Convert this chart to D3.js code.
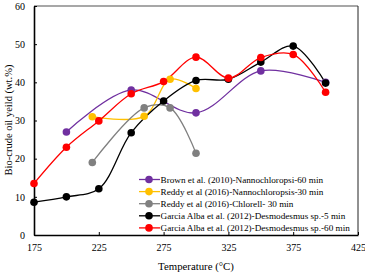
<!DOCTYPE html>
<html><head><meta charset="utf-8">
<script src="https://cdn.jsdelivr.net/npm/d3@7"></script>
</head><body style="margin:0;background:#fff"><svg id="c" width="365" height="275"></svg>
<script>
const seriesNames = [
  "Brown et al. (2010)-Nannochloropsi-60 min",
  "Reddy et al (2016)-Nannochloropsis-30 min",
  "Reddy et al (2016)-Chlorell- 30 min",
  "Garcia Alba et al. (2012)-Desmodesmus sp.-5 min",
  "Garcia Alba et al. (2012)-Desmodesmus sp.-60 min"
];
const seriesColors = ["#7030A0", "#FFC000", "#808080", "#000000", "#FF0000"];
const brownX = [200, 250, 300, 350, 400];
const brownY = [27, 38, 32, 43, 40];
const reddyNX = [220, 260, 280, 300];
const reddyNY = [31, 31.1, 40.8, 38.4];
const reddyCX = [220, 260, 280, 300];
const reddyCY = [19, 33.3, 33.3, 21.4];
const garcia5X = [175, 200, 225, 250, 275, 300, 325, 350, 375, 400];
const garcia5Y = [8.6, 10, 12.1, 26.8, 35.1, 40.5, 40.8, 45.3, 49.5, 39.8];
const garcia60X = [175, 200, 225, 250, 275, 300, 325, 350, 375, 400];
const garcia60Y = [13.5, 23, 29.9, 37, 40.2, 46.6, 41.1, 46.5, 47.3, 37.4];
const xTicks = [175, 225, 275, 325, 375, 425];
const yTicks = [0, 10, 20, 30, 40, 50, 60];

const allX = [brownX, reddyNX, reddyCX, garcia5X, garcia60X];
const allY = [brownY, reddyNY, reddyCY, garcia5Y, garcia60Y];
const FONT = "Liberation Serif";

const svg = d3.select("#c");
const L = 34, R = 358, T = 6, B = 235;
const x = d3.scaleLinear().domain([175, 425]).range([L, R]);
const y = d3.scaleLinear().domain([0, 60]).range([B, T]);

// frame top/right
svg.append("line").attr("x1", L).attr("x2", R).attr("y1", T).attr("y2", T).attr("stroke", "#8a8a8a").attr("stroke-width", 1.5);
svg.append("line").attr("x1", R).attr("x2", R).attr("y1", T).attr("y2", B).attr("stroke", "#222").attr("stroke-width", 1);

// axes
const yAxis = d3.axisLeft(y).tickValues(yTicks).tickSizeInner(-3).tickSizeOuter(0).tickPadding(9);
const gy = svg.append("g").attr("transform", `translate(${L},0)`).call(yAxis);
const xAxis = d3.axisBottom(x).tickValues(xTicks).tickSizeInner(-3).tickSizeOuter(0).tickPadding(9);
const gx = svg.append("g").attr("transform", `translate(0,${B})`).call(xAxis);
[gy, gx].forEach(g => {
  g.attr("font-family", FONT).attr("font-size", 10);
  g.select(".domain").attr("stroke", "#000").attr("stroke-width", 1.6);
  g.selectAll(".tick line").attr("stroke", "#000");
  g.selectAll("text").attr("font-family", FONT).attr("font-size", 10).attr("fill", "#000");
});

// lines
const line = d3.line().x(d => x(d[0])).y(d => y(d[1])).curve(d3.curveCatmullRom.alpha(0.5));
allX.forEach((xs, i) => {
  const pts = xs.map((v, j) => [v, allY[i][j]]);
  svg.append("path").datum(pts).attr("d", line).attr("fill", "none")
    .attr("stroke", seriesColors[i]).attr("stroke-width", 1.3);
});
allX.forEach((xs, i) => {
  const pts = xs.map((v, j) => [v, allY[i][j]]);
  svg.append("g").selectAll("circle").data(pts).join("circle")
    .attr("cx", d => x(d[0])).attr("cy", d => y(d[1])).attr("r", 3.8)
    .attr("fill", seriesColors[i]);
});

// legend
const lg = svg.append("g");
seriesNames.forEach((n, i) => {
  const yy = 179.5 + i * 12.1;
  lg.append("line").attr("x1", 139).attr("x2", 160).attr("y1", yy).attr("y2", yy).attr("stroke", seriesColors[i]).attr("stroke-width", 1.3);
  lg.append("circle").attr("cx", 149).attr("cy", yy).attr("r", 3.8).attr("fill", seriesColors[i]);
  lg.append("text").attr("x", 160.5).attr("y", yy + 3.2).attr("font-family", FONT).attr("font-size", 9.2).attr("fill", "#000").text(n);
});

// axis labels
svg.append("text").attr("x", 196).attr("y", 270).attr("text-anchor", "middle").attr("font-family", FONT).attr("font-size", 10.8).attr("fill", "#000").text("Temperature (°C)");
svg.append("text").attr("transform", "translate(12,120) rotate(-90)").attr("text-anchor", "middle").attr("font-family", FONT).attr("font-size", 10.5).attr("fill", "#000").text("Bio-crude oil yeild (wt.%)");
</script></body></html>
